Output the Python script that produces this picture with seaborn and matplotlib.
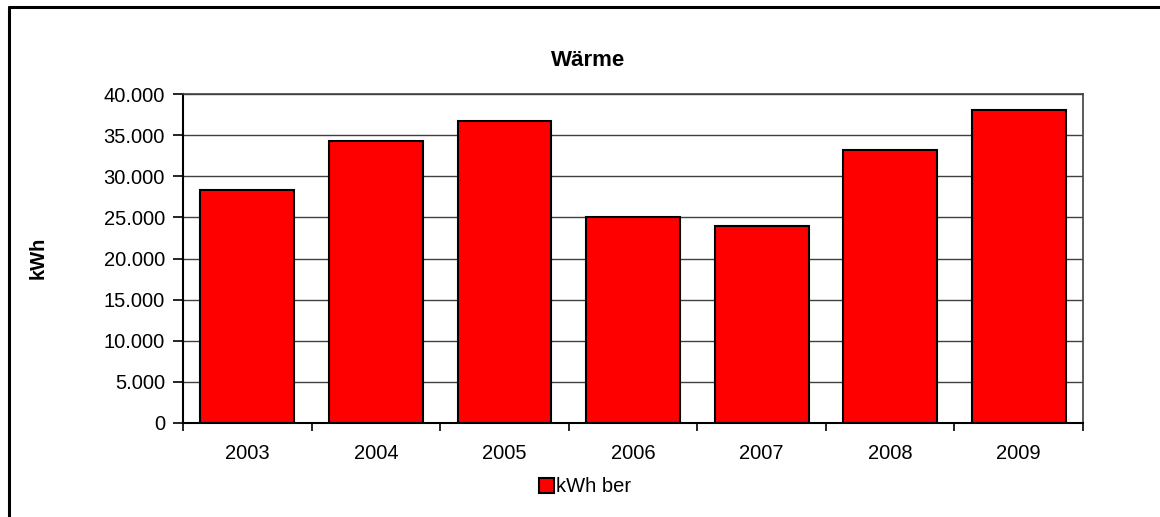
import matplotlib
matplotlib.use("Agg")
import matplotlib.pyplot as plt
import matplotlib.patches as mpatches
from matplotlib.lines import Line2D
import seaborn as sns
import pandas as pd
import numpy as np

# data
years = ["2003", "2004", "2005", "2006", "2007", "2008", "2009"]
kwh_ber = [28300, 34300, 36700, 25000, 23900, 33200, 38100]
yticks = [0, 5000, 10000, 15000, 20000, 25000, 30000, 35000, 40000]
ytick_labels = ["0", "5.000", "10.000", "15.000", "20.000", "25.000", "30.000", "35.000", "40.000"]

sns.set_style("white")
plt.rcParams['font.family'] = ['Liberation Sans', 'DejaVu Sans']
plt.rcParams['text.color'] = 'black'
plt.rcParams['xtick.color'] = 'black'
plt.rcParams['ytick.color'] = 'black'
plt.rcParams['axes.labelcolor'] = 'black'

df = pd.DataFrame({"year": years, "kwh": kwh_ber})

W, H = 1160, 517
fig = plt.figure(figsize=(W / 100, H / 100), dpi=100)
ax = fig.add_axes([183 / W, 1 - 423 / H, 900 / W, 329 / H])

sns.barplot(data=df, x="year", y="kwh", color="#ff0000", saturation=1,
            edgecolor="black", linewidth=1.5, width=0.73, ax=ax)

ax.set_ylim(0, 40000)
ax.set_xlim(-0.5, len(years) - 0.5)
ax.set_yticks(yticks)
ax.set_yticklabels(ytick_labels, fontsize=14.5)
ax.tick_params(axis="y", direction="out", length=7, width=1.2, color="black", left=True, pad=6)
ax.tick_params(axis="x", which="major", length=0, labelsize=14.5, pad=15)
ax.set_xticks(np.arange(-0.5, len(years)), minor=True)
ax.tick_params(axis="x", which="minor", direction="out", length=6, width=1.2, color="black", bottom=True)

ax.yaxis.grid(True, color="#404040", linewidth=1)
ax.set_axisbelow(True)

for side in ["left", "bottom"]:
    ax.spines[side].set_color("black")
    ax.spines[side].set_linewidth(1.5)
for side in ["top", "right"]:
    ax.spines[side].set_visible(True)
    ax.spines[side].set_color("#404040")
    ax.spines[side].set_linewidth(1.2)

ax.set_xlabel("")
ax.set_ylabel("")
fig.text(38 / W, 1 - 258 / H, "kWh", rotation=90, fontsize=14.5, fontweight="bold",
         ha="center", va="center")
fig.text(588 / W, 1 - 61 / H, "Wärme", fontsize=16, fontweight="bold",
         ha="center", va="center")

handle = mpatches.Patch(facecolor="#ff0000", edgecolor="black", linewidth=1.5)
fig.legend([handle], ["kWh ber"], loc="center", bbox_to_anchor=(585 / W, 1 - 487 / H),
           frameon=False, fontsize=14.5, handlelength=0.75, handleheight=0.75,
           handletextpad=0.1, borderaxespad=0, borderpad=0)

# outer chart border (only top and left edges are visible in the crop)
fig.add_artist(Line2D([9 / W, 9 / W], [0, 1 - 7 / H], transform=fig.transFigure,
                      color="black", linewidth=2.2))
fig.add_artist(Line2D([9 / W, 1], [1 - 7 / H, 1 - 7 / H], transform=fig.transFigure,
                      color="black", linewidth=2.2))

fig.savefig("out.png", dpi=100)
